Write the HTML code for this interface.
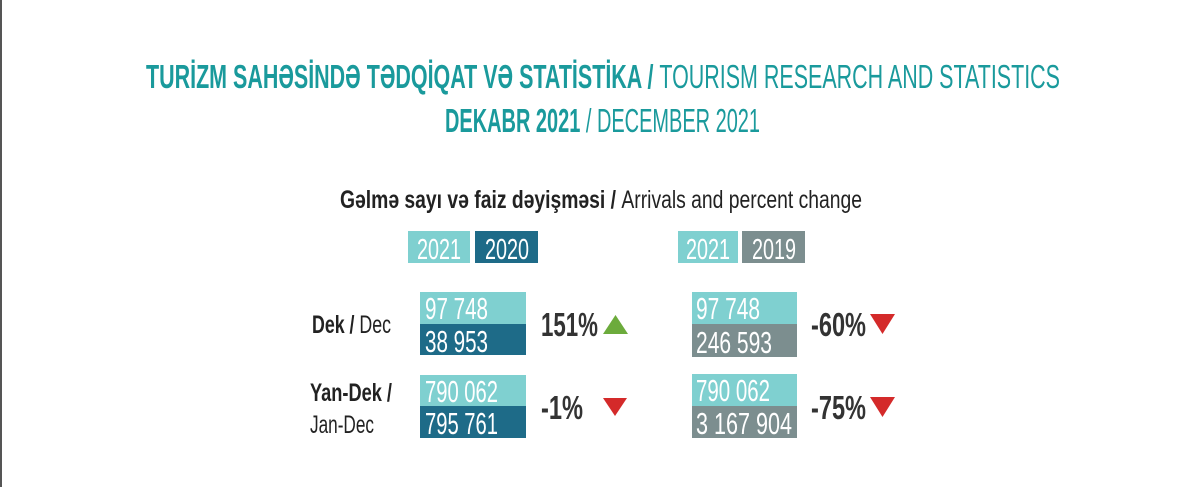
<!DOCTYPE html>
<html><head><style>html,body{margin:0;padding:0;background:#fff}svg{display:block}</style></head>
<body>
<svg width="1200" height="487" viewBox="0 0 1200 487" xmlns="http://www.w3.org/2000/svg" font-family="Liberation Sans Narrow, Liberation Sans, sans-serif">
<rect x="0" y="0" width="2" height="487" fill="#555"/>
<text x="146" y="88" font-size="33" fill="#1a9a9c" textLength="914" lengthAdjust="spacingAndGlyphs"><tspan font-weight="bold">TURİZM SAHƏSİNDƏ TƏDQİQAT VƏ STATİSTİKA / </tspan>TOURISM RESEARCH AND STATISTICS</text>
<text x="445" y="132" font-size="33" fill="#1a9a9c" textLength="315" lengthAdjust="spacingAndGlyphs"><tspan font-weight="bold">DEKABR 2021 </tspan>/ DECEMBER 2021</text>
<text x="340" y="208" font-size="25" fill="#222" textLength="522" lengthAdjust="spacingAndGlyphs"><tspan font-weight="bold">Gəlmə sayı və faiz dəyişməsi / </tspan>Arrivals and percent change</text>
<g font-size="29" fill="#fff">
<rect x="408" y="231" width="62" height="32" fill="#7fd0d0"/><text x="417" y="259" textLength="44" lengthAdjust="spacingAndGlyphs">2021</text>
<rect x="475" y="231" width="63" height="32" fill="#1e6b88"/><text x="485" y="259" textLength="44" lengthAdjust="spacingAndGlyphs">2020</text>
<rect x="678" y="231" width="60" height="32" fill="#7fd0d0"/><text x="686" y="259" textLength="44" lengthAdjust="spacingAndGlyphs">2021</text>
<rect x="742" y="231" width="63" height="32" fill="#7c8e8f"/><text x="752" y="259" textLength="44" lengthAdjust="spacingAndGlyphs">2019</text>
</g>
<g font-size="31" fill="#fff">
<rect x="420" y="292" width="106" height="32" fill="#7fd0d0"/><text x="425" y="319" textLength="63" lengthAdjust="spacingAndGlyphs">97 748</text>
<rect x="420" y="324" width="106" height="31" fill="#1e6b88"/><text x="425" y="352" textLength="63" lengthAdjust="spacingAndGlyphs">38 953</text>
<rect x="420" y="375" width="106" height="31" fill="#7fd0d0"/><text x="425" y="402" textLength="73" lengthAdjust="spacingAndGlyphs">790 062</text>
<rect x="420" y="406" width="106" height="32" fill="#1e6b88"/><text x="425" y="434" textLength="73" lengthAdjust="spacingAndGlyphs">795 761</text>

<rect x="692" y="292" width="105" height="32" fill="#7fd0d0"/><text x="696" y="319" textLength="64" lengthAdjust="spacingAndGlyphs">97 748</text>
<rect x="692" y="324" width="105" height="33" fill="#7c8e8f"/><text x="696" y="353" textLength="76" lengthAdjust="spacingAndGlyphs">246 593</text>
<rect x="692" y="374" width="105" height="32" fill="#7fd0d0"/><text x="696" y="401" textLength="74" lengthAdjust="spacingAndGlyphs">790 062</text>
<rect x="692" y="406" width="105" height="32" fill="#7c8e8f"/><text x="696" y="434" textLength="96" lengthAdjust="spacingAndGlyphs">3 167 904</text>
</g>
<g fill="#222" font-size="25">
<text x="312" y="333" textLength="79" lengthAdjust="spacingAndGlyphs"><tspan font-weight="bold">Dek / </tspan>Dec</text>
<text x="310" y="401" font-weight="bold" textLength="82" lengthAdjust="spacingAndGlyphs">Yan-Dek /</text>
<text x="310" y="433" textLength="64" lengthAdjust="spacingAndGlyphs">Jan-Dec</text>
</g>
<g fill="#333" font-size="33" font-weight="bold">
<text x="541" y="336" textLength="57" lengthAdjust="spacingAndGlyphs">151%</text>
<text x="541" y="419" textLength="42" lengthAdjust="spacingAndGlyphs">-1%</text>
<text x="811" y="336" textLength="55" lengthAdjust="spacingAndGlyphs">-60%</text>
<text x="811" y="419" textLength="55" lengthAdjust="spacingAndGlyphs">-75%</text>
</g>
<polygon points="603,334 628,334 615.5,315" fill="#6cab3c"/>
<polygon points="603,398 627,398 615,416" fill="#d42a2a"/>
<polygon points="870,314 895,314 882.5,334" fill="#d42a2a"/>
<polygon points="870,397 895,397 882.5,417" fill="#d42a2a"/>
</svg>
</body></html>
